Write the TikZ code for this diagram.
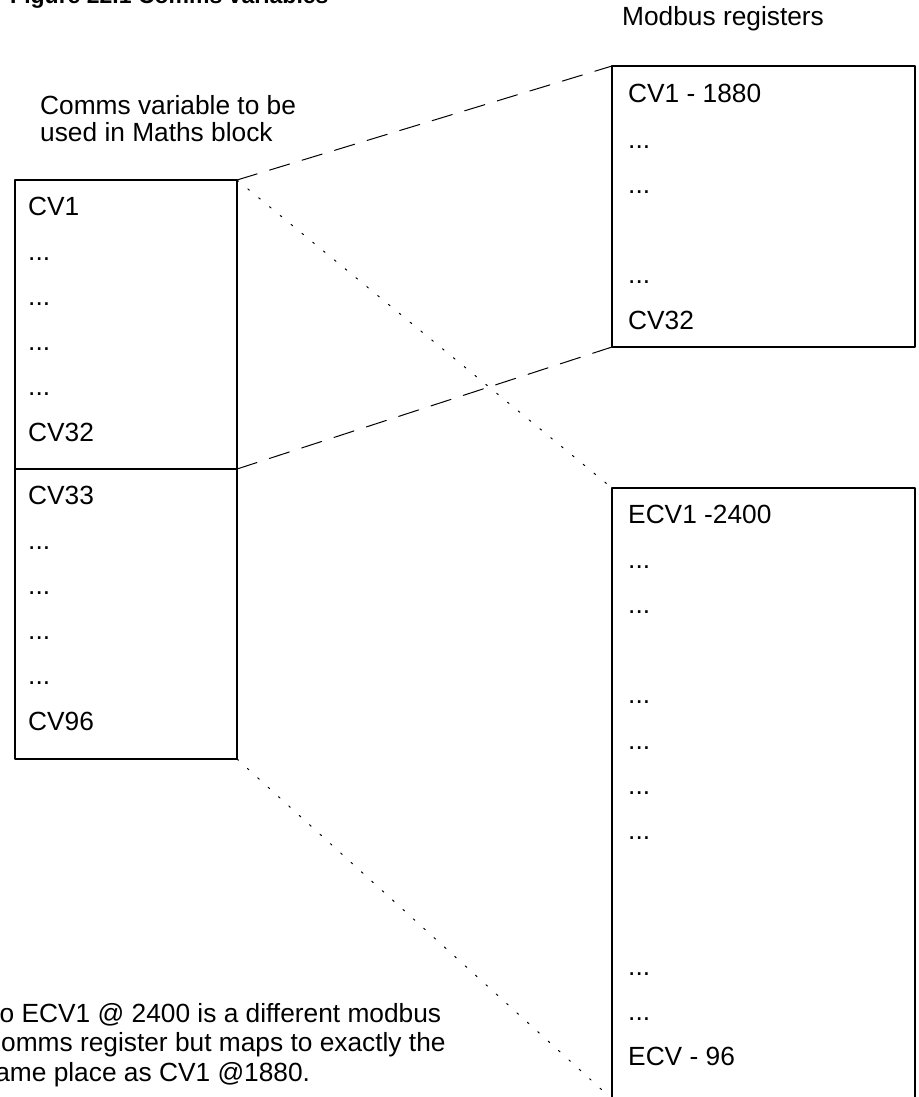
\documentclass[tikz,border=0pt]{standalone}
\usepackage{fontspec}
\setmainfont{Liberation Sans}

\begin{document}
\begin{tikzpicture}[x=1pt,y=-1pt,line cap=round,line join=round,
  regbox/.style={draw,line width=2pt,minimum width=222pt,anchor=north west,inner sep=0pt,outer sep=0pt},
  entry/.style={anchor=base west,inner sep=0pt,font=\fontsize{26.3}{30}\selectfont},
  linkdash/.style={line width=1pt,dash pattern=on 21pt off 13pt},
  linkdot/.style={line width=1pt,dash pattern=on 2pt off 12pt}]
  \useasboundingbox (0,0) rectangle (918,1097);
  \clip (0,0) rectangle (918,1097);
  % boxes
  \node[regbox,minimum height=289pt] (cvA) at (15,180) {};
  \node[regbox,minimum height=290pt] (cvB) at (15,469) {};
  \node[regbox,minimum width=303pt,minimum height=281pt] (mbA) at (612,66) {};
  \node[regbox,minimum width=303pt,minimum height=611pt] (mbB) at (612,488) {};
  % headings
  \node[anchor=base west,inner sep=0pt,font=\bfseries\fontsize{23}{26}\selectfont] (title) at (10,4) {Figure 22.1 Comms variables};
  \node[entry] (cvhead) at (40,114) {Comms variable to be};
  \node[entry] (cvhead2) at (40,142) {used in Maths block};
  \node[entry] (mbhead) at (622,26) {Modbus registers};
  % comms variables
  \node[entry] (cv1) at (28,215) {CV1};
  \node[entry] (cvdotA) at (28,260.2) {...};
  \node[entry] (cvdotB) at (28,305.4) {...};
  \node[entry] (cvdotC) at (28,350.6) {...};
  \node[entry] (cvdotD) at (28,395.8) {...};
  \node[entry] (cv32) at (28,441) {CV32};
  \node[entry] (cv33) at (28,504) {CV33};
  \node[entry] (cvdotE) at (28,549.2) {...};
  \node[entry] (cvdotF) at (28,594.4) {...};
  \node[entry] (cvdotG) at (28,639.6) {...};
  \node[entry] (cvdotH) at (28,684.8) {...};
  \node[entry] (cv96) at (28,730) {CV96};
  % modbus registers
  \node[entry] (mb1) at (628,103) {CV1 - 1880};
  \node[entry] (mbdotA) at (628,148.2) {...};
  \node[entry] (mbdotB) at (628,193.4) {...};
  \node[entry] (mbdotC) at (628,283.8) {...};
  \node[entry] (mb32) at (628,329) {CV32};
  \node[entry] (ecv1) at (628,523) {ECV1 -2400};
  \node[entry] (ecvdotA) at (628,568.2) {...};
  \node[entry] (ecvdotB) at (628,613.4) {...};
  \node[entry] (ecvdotC) at (628,703.8) {...};
  \node[entry] (ecvdotD) at (628,749) {...};
  \node[entry] (ecvdotE) at (628,794.2) {...};
  \node[entry] (ecvdotF) at (628,839.4) {...};
  \node[entry] (ecvdotG) at (628,975) {...};
  \node[entry] (ecvdotH) at (628,1020.2) {...};
  \node[entry] (ecv96) at (628,1065.4) {ECV - 96};
  % note
  \node[entry] (noteA) at (-18,1022) {So ECV1 @ 2400 is a different modbus};
  \node[entry] (noteB) at (-18,1051.5) {Comms register but maps to exactly the};
  \node[entry] (noteC) at (-18,1081) {same place as CV1 @1880.};
  % links
  \draw[linkdash] (cvA.north east) -- (mbA.north west);
  \draw[linkdash] (cvA.south east) -- (mbA.south west);
  \draw[linkdot] (cvA.north east) -- (mbB.north west);
  \draw[linkdot] (cvB.south east) -- (mbB.south west);
\end{tikzpicture}
\end{document}
